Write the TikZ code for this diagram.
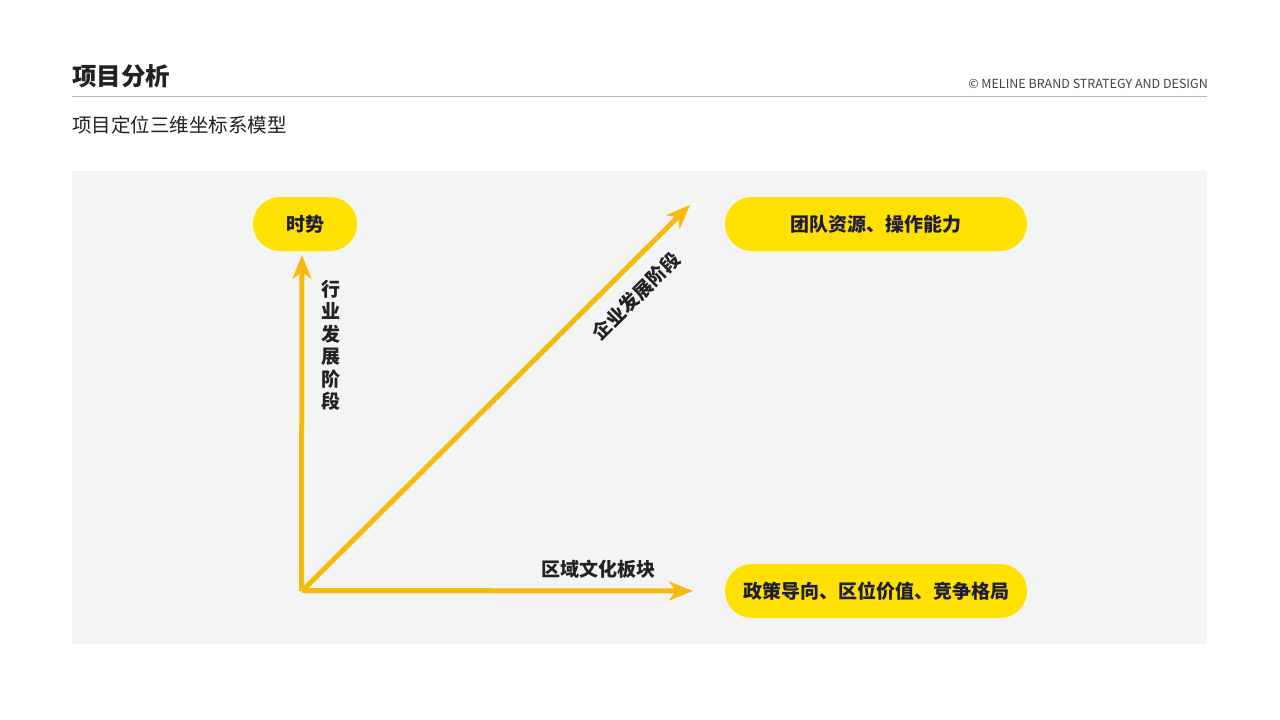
\documentclass[tikz,border=0pt]{standalone}
\usepackage{fontspec}
\setmainfont{Noto Sans CJK SC}[BoldFont={Noto Sans CJK SC Black}]
\usetikzlibrary{arrows.meta}
\definecolor{panel}{HTML}{F4F4F4}
\definecolor{pill}{HTML}{FFE100}
\definecolor{arr}{HTML}{F7B90C}
\definecolor{navy}{HTML}{1E1E3C}
\definecolor{ink}{HTML}{222222}
\definecolor{rule}{HTML}{BBBBBB}
\tikzset{
  pillbox/.style={fill=pill, rounded corners=27pt, text=navy, font=\bfseries\fontsize{19}{19}\selectfont, inner sep=0pt, anchor=center},
  axis/.style={draw=arr, line width=5pt, -{Stealth[length=24pt,width=19pt,inset=7pt]}},
  axlabel/.style={text=ink, font=\bfseries\fontsize{19}{19}\selectfont, inner sep=0pt}
}
\begin{document}
\begin{tikzpicture}[x=1pt,y=-1pt]
\useasboundingbox (0,0) rectangle (1280,720);
\fill[white] (0,0) rectangle (1280,720);
% header
\node[anchor=base west, inner sep=0pt, text=ink, font=\bfseries\fontsize{24.5}{25}\selectfont] (title) at (72,85) {项目分析};
\node[anchor=base east, inner sep=0pt, text=ink!85, font=\fontsize{12.5}{13}\selectfont] (copy) at (1208,88) {© MELINE BRAND STRATEGY AND DESIGN};
\draw[rule, line width=1pt] (72,96.5) -- (1207,96.5);
\node[anchor=base west, inner sep=0pt, text=ink, font=\fontsize{19.5}{20}\selectfont] (sub) at (72,132) {项目定位三维坐标系模型};
% panel
\fill[panel] (72,171) rectangle (1207,644);
% pills
\node[pillbox, minimum width=104pt, minimum height=54pt] (shi) at (305,224) {时势};
\node[pillbox, minimum width=302pt, minimum height=54pt] (team) at (876,224) {团队资源、操作能力};
\node[pillbox, minimum width=302pt, minimum height=54pt] (policy) at (876,591) {政策导向、区位价值、竞争格局};
% axes
\coordinate (o) at (302,591);
\coordinate (ytip) at (302,255);
\coordinate (dtip) at (690,205);
\coordinate (xtip) at (693,591);
\draw[axis] ([xshift=-0.5pt]o) -- (ytip);
\draw[axis] (o) -- (dtip);
\draw[axis] ([yshift=0.5pt]o) -- (xtip);
% labels
\node[axlabel, align=center, anchor=north, font=\bfseries\fontsize{19}{22.4}\selectfont] (lv) at (331,280) {行\\业\\发\\展\\阶\\段};
\node[axlabel, rotate=45] (ld) at (636,296) {企业发展阶段};
\node[axlabel] (lh) at (598,569) {区域文化板块};
\end{tikzpicture}
\end{document}
